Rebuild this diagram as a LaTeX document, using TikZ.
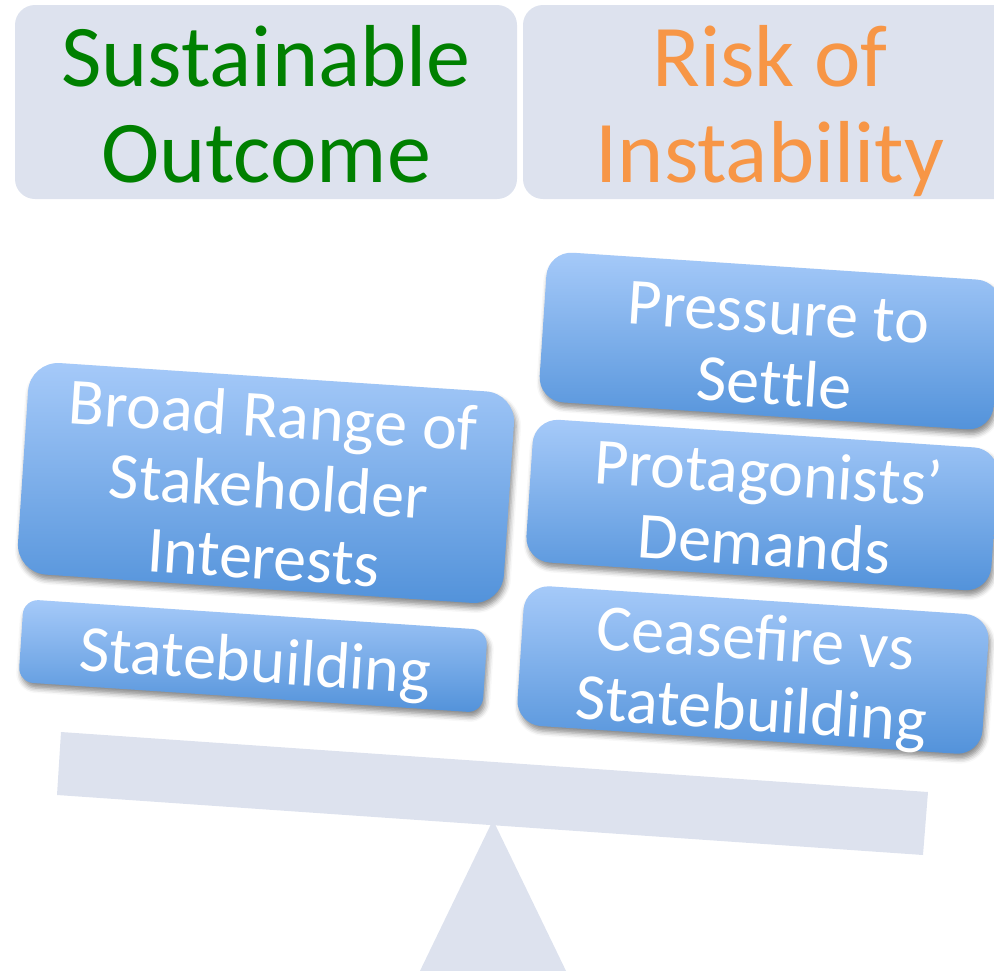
\documentclass[tikz,border=0pt]{standalone}
\usepackage{fontspec}
\setmainfont{Carlito}
\usetikzlibrary{shadows.blur}
\definecolor{panel}{RGB}{221,226,238}
\definecolor{btop}{RGB}{166,202,249}
\definecolor{bbot}{RGB}{82,146,218}
\definecolor{sgreen}{RGB}{0,128,0}
\definecolor{sorange}{RGB}{247,150,70}
\begin{document}
\begin{tikzpicture}[x=1pt,y=1pt,
  panelbox/.style={fill=panel, rounded corners=20pt, inner sep=0pt},
  headtext/.style={font=\fontsize{88}{96}\selectfont, align=center, inner sep=0pt},
  bluebox/.style={rotate=-3.8, inner sep=0pt, top color=btop, bottom color=bbot,
    blur shadow={shadow xshift=2pt, shadow yshift=-5pt, shadow blur radius=5pt, shadow opacity=45}},
  bluetext/.style={rotate=-3.8, text=white, font=\fontsize{66}{71}\selectfont, align=center, inner sep=0pt}]
\clip (0,0) rectangle (994,-970);
% seesaw
\coordinate (bTL) at (61,-732);
\coordinate (bTR) at (928,-792);
\coordinate (bBR) at (923,-855);
\coordinate (bBL) at (57,-795);
\fill[panel] (bTL) -- (bTR) -- (bBR) -- (bBL) -- cycle;
\coordinate (apex) at (493,-820);
\coordinate (fR) at (568,-975);
\coordinate (fL) at (418,-975);
\fill[panel] (apex) -- (fR) -- (fL) -- cycle;
% header panels
\node[panelbox, minimum width=502pt, minimum height=194pt] (sus) at (266,-102) {};
\node[headtext, text=sgreen] (sustxt) at (266,-114.8) {\strut Sustainable\\\strut Outcome};
\node[panelbox, minimum width=494pt, minimum height=194pt] (risk) at (770,-102) {};
\node[headtext, text=sorange] (risktxt) at (770,-114.8) {\strut Risk of\\\strut Instability};
% left blue boxes
\node[bluebox, rounded corners=30pt, minimum width=487pt, minimum height=212pt] (broad) at (266,-483) {};
\node[bluetext] (broadtxt) at (268,-494) {\strut Broad Range of\\\strut Stakeholder\\\strut Interests};
\node[bluebox, rounded corners=15pt, minimum width=465pt, minimum height=83pt] (state) at (253,-656) {};
\node[bluetext] (statetxt) at (255,-668) {\strut Statebuilding};
% right blue boxes
\node[bluebox, rounded corners=25pt, minimum width=455pt, minimum height=150pt] (press) at (770,-341) {};
\node[bluetext] (presstxt) at (776,-355) {\strut Pressure to\\\strut Set\kern0pt tle};
\node[bluebox, rounded corners=25pt, minimum width=466pt, minimum height=143pt] (prot) at (762,-505) {};
\node[bluetext] (prottxt) at (766,-516) {\strut Protagonists’\\\strut Demands};
\node[bluebox, rounded corners=25pt, minimum width=466pt, minimum height=140pt] (cease) at (753,-670) {};
\node[bluetext] (ceasetxt) at (753,-681) {\strut Ceasefire vs\\\strut Statebuilding};
\end{tikzpicture}
\end{document}
